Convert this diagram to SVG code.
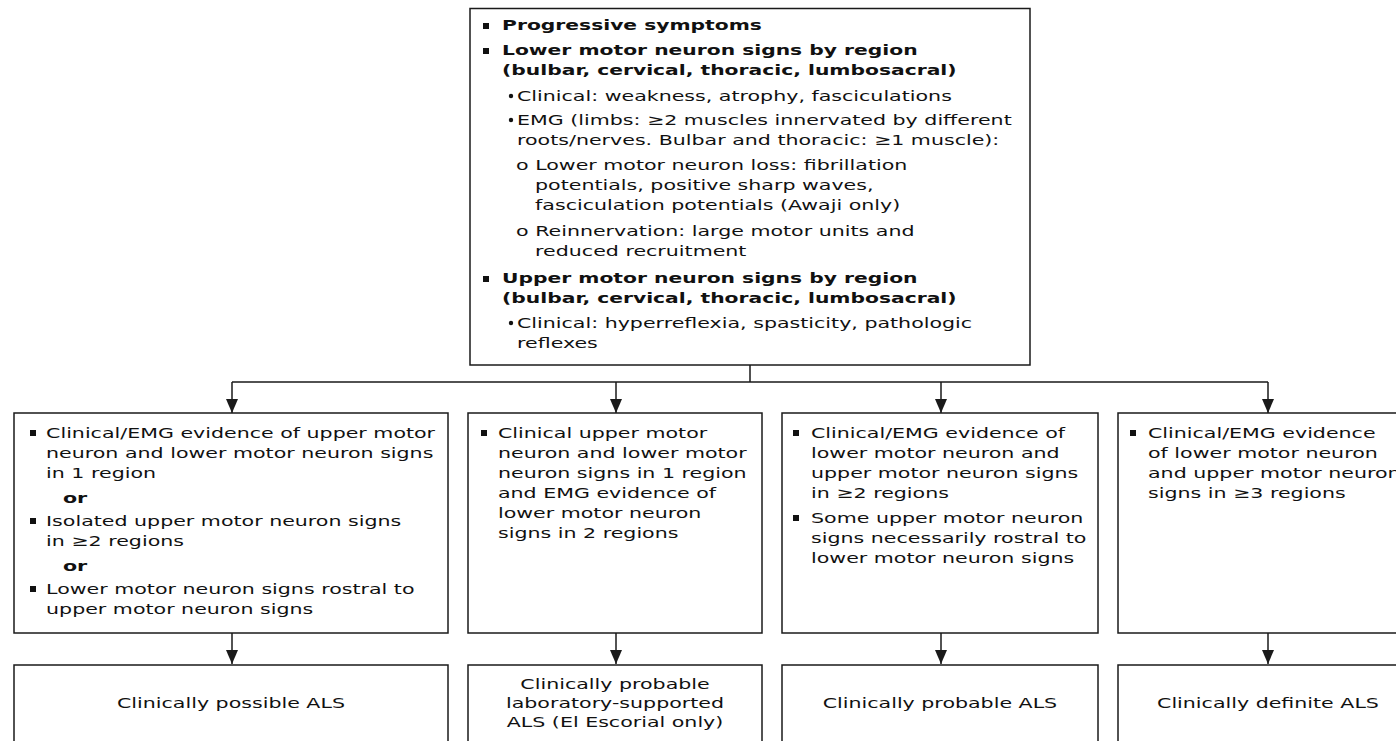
<svg xmlns="http://www.w3.org/2000/svg" width="1396" height="741" viewBox="0 0 1396 741">
<defs>
<style>
.box{fill:#fff;stroke:#1a1a1a;stroke-width:1.5}
.t{font-family:"DejaVu Sans","Liberation Sans",sans-serif;font-size:14.7px;fill:#111}
.b{font-weight:bold}
.c{text-anchor:middle}
.sq{fill:#111}
.con{fill:none;stroke:#1a1a1a;stroke-width:1.5}
</style>
<marker id="ah" markerUnits="userSpaceOnUse" markerWidth="12" markerHeight="14" refX="6" refY="14" orient="0" viewBox="0 0 12 14">
<path d="M0,0 L12,0 L6,14 z" fill="#1a1a1a"/>
</marker>
</defs>
<rect width="1396" height="741" fill="#fff"/>

<g id="connectors">
<path class="con" d="M750,365 V382 M232,382 H1268"/>
<path class="con" d="M232,382 V413" marker-end="url(#ah)"/>
<path class="con" d="M616,382 V413" marker-end="url(#ah)"/>
<path class="con" d="M941,382 V413" marker-end="url(#ah)"/>
<path class="con" d="M1268,382 V413" marker-end="url(#ah)"/>
<path class="con" d="M232,633 V664" marker-end="url(#ah)"/>
<path class="con" d="M616,633 V664" marker-end="url(#ah)"/>
<path class="con" d="M941,633 V664" marker-end="url(#ah)"/>
<path class="con" d="M1268,633 V664" marker-end="url(#ah)"/>
</g>

<g id="criteria">
<rect class="box" x="470" y="8.5" width="560" height="356.5"/>
<rect class="sq" x="483" y="23" width="6" height="6"/>
<rect class="sq" x="483" y="48" width="6" height="6"/>
<rect class="sq" x="483" y="276" width="6" height="6"/>
<circle class="sq" cx="511" cy="96" r="2.2"/>
<circle class="sq" cx="511" cy="120" r="2.2"/>
<circle class="sq" cx="511" cy="323" r="2.2"/>
<g transform="scale(1.38,1)">
<text class="t b" x="363.8" y="30">Progressive symptoms</text>
<text class="t b" x="363.8" y="55">Lower motor neuron signs by region</text>
<text class="t b" x="363.8" y="75">(bulbar, cervical, thoracic, lumbosacral)</text>
<text class="t b" x="363.8" y="283">Upper motor neuron signs by region</text>
<text class="t b" x="363.8" y="303">(bulbar, cervical, thoracic, lumbosacral)</text>
</g>
<g transform="scale(1.4,1)">
<text class="t" x="369.3" y="101">Clinical: weakness, atrophy, fasciculations</text>
<text class="t" x="369.3" y="125">EMG (limbs: ≥2 muscles innervated by different</text>
<text class="t" x="369.3" y="145">roots/nerves. Bulbar and thoracic: ≥1 muscle):</text>
<text class="t" x="368.6" y="170">o Lower motor neuron loss: fibrillation</text>
<text class="t" x="382.2" y="190">potentials, positive sharp waves,</text>
<text class="t" x="382.2" y="210">fasciculation potentials (Awaji only)</text>
<text class="t" x="368.6" y="236">o Reinnervation: large motor units and</text>
<text class="t" x="382.2" y="256">reduced recruitment</text>
<text class="t" x="369.3" y="328">Clinical: hyperreflexia, spasticity, pathologic</text>
<text class="t" x="369.3" y="348">reflexes</text>
</g>
</g>

<g id="possible-criteria">
<rect class="box" x="14" y="413" width="434" height="220"/>
<rect class="sq" x="30" y="430" width="6" height="6"/>
<rect class="sq" x="30" y="518" width="6" height="6"/>
<rect class="sq" x="30" y="586" width="6" height="6"/>
<g transform="scale(1.4,1)">
<text class="t" x="32.9" y="438">Clinical/EMG evidence of upper motor</text>
<text class="t" x="32.9" y="458">neuron and lower motor neuron signs</text>
<text class="t" x="32.9" y="478">in 1 region</text>
<text class="t b" x="45" y="503">or</text>
<text class="t" x="32.9" y="526">Isolated upper motor neuron signs</text>
<text class="t" x="32.9" y="546">in ≥2 regions</text>
<text class="t b" x="45" y="571">or</text>
<text class="t" x="32.9" y="594">Lower motor neuron signs rostral to</text>
<text class="t" x="32.9" y="614">upper motor neuron signs</text>
</g>
</g>

<g id="lab-supported-criteria">
<rect class="box" x="468" y="413" width="294" height="220"/>
<rect class="sq" x="481" y="430" width="6" height="6"/>
<g transform="scale(1.4,1)">
<text class="t" x="355.7" y="438">Clinical upper motor</text>
<text class="t" x="355.7" y="458">neuron and lower motor</text>
<text class="t" x="355.7" y="478">neuron signs in 1 region</text>
<text class="t" x="355.7" y="498">and EMG evidence of</text>
<text class="t" x="355.7" y="518">lower motor neuron</text>
<text class="t" x="355.7" y="538">signs in 2 regions</text>
</g>
</g>

<g id="probable-criteria">
<rect class="box" x="782" y="413" width="316" height="220"/>
<rect class="sq" x="793" y="430" width="6" height="6"/>
<rect class="sq" x="793" y="515" width="6" height="6"/>
<g transform="scale(1.4,1)">
<text class="t" x="579.3" y="438">Clinical/EMG evidence of</text>
<text class="t" x="579.3" y="458">lower motor neuron and</text>
<text class="t" x="579.3" y="478">upper motor neuron signs</text>
<text class="t" x="579.3" y="498">in ≥2 regions</text>
<text class="t" x="579.3" y="523">Some upper motor neuron</text>
<text class="t" x="579.3" y="543">signs necessarily rostral to</text>
<text class="t" x="579.3" y="563">lower motor neuron signs</text>
</g>
</g>

<g id="definite-criteria">
<rect class="box" x="1118" y="413" width="300" height="220"/>
<rect class="sq" x="1130" y="430" width="6" height="6"/>
<g transform="scale(1.4,1)">
<text class="t" x="820" y="438">Clinical/EMG evidence</text>
<text class="t" x="820" y="458">of lower motor neuron</text>
<text class="t" x="820" y="478">and upper motor neuron</text>
<text class="t" x="820" y="498">signs in ≥3 regions</text>
</g>
</g>

<g id="possible-als">
<rect class="box" x="14" y="665" width="434" height="100"/>
<g transform="scale(1.4,1)"><text class="t c" x="165" y="708">Clinically possible ALS</text></g>
</g>

<g id="lab-supported-als">
<rect class="box" x="468" y="665" width="294" height="100"/>
<g transform="scale(1.4,1)">
<text class="t c" x="439.3" y="689">Clinically probable</text>
<text class="t c" x="439.3" y="708">laboratory-supported</text>
<text class="t c" x="439.3" y="727">ALS (El Escorial only)</text>
</g>
</g>

<g id="probable-als">
<rect class="box" x="782" y="665" width="316" height="100"/>
<g transform="scale(1.4,1)"><text class="t c" x="671.4" y="708">Clinically probable ALS</text></g>
</g>

<g id="definite-als">
<rect class="box" x="1118" y="665" width="300" height="100"/>
<g transform="scale(1.4,1)"><text class="t c" x="905.7" y="708">Clinically definite ALS</text></g>
</g>
</svg>
